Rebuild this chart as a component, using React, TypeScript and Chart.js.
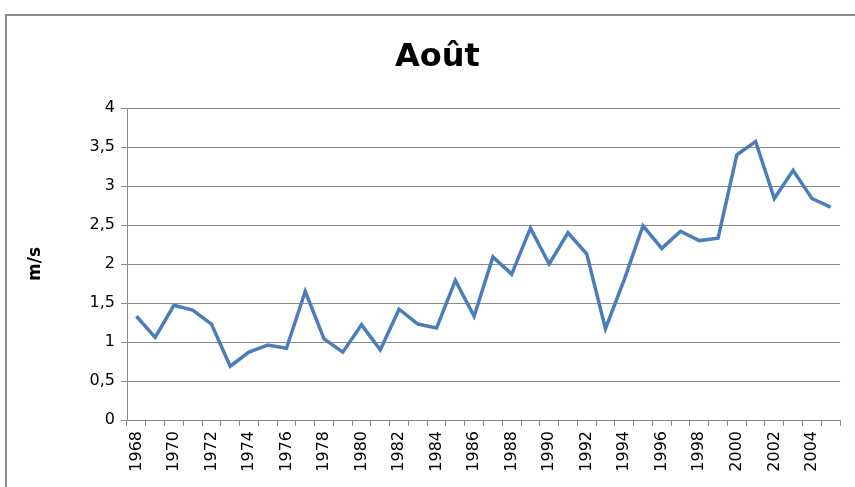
import React, { useEffect, useRef } from "react";
import { Chart, registerables } from "chart.js";

Chart.register(...registerables);

const years: string[] = [];
for (let y = 1968; y <= 2005; y++) years.push(String(y));

const values: number[] = [
  1.33, 1.06, 1.47, 1.41, 1.23, 0.69, 0.87, 0.96, 0.92, 1.65,
  1.04, 0.87, 1.22, 0.9, 1.42, 1.23, 1.18, 1.79, 1.33, 2.09,
  1.87, 2.46, 2.0, 2.4, 2.13, 1.17, 1.8, 2.49, 2.2, 2.42,
  2.3, 2.33, 3.4, 3.57, 2.84, 3.2, 2.84, 2.73,
];

const title = "Août";
const yTitle = "m/s";

export default function App() {
  const ref = useRef<HTMLCanvasElement>(null);
  useEffect(() => {
    const ctx = ref.current!;
    const chart = new Chart(ctx, {
      type: "line",
      data: {
        labels: years,
        datasets: [
          {
            data: values,
            borderColor: "#4a7ebb",
            borderWidth: 3.5,
            pointRadius: 0,
            tension: 0,
            fill: false,
          },
        ],
      },
      options: {
        animation: false,
        responsive: false,
        layout: { padding: { left: 20, right: 0, top: 0, bottom: 0 } },
        plugins: {
          legend: { display: false },
          tooltip: { enabled: false },
          title: {
            display: true,
            text: title,
            color: "#000",
            font: { family: "DejaVu Sans", size: 32, weight: "bold", lineHeight: 1.2 },
            padding: { top: 38, bottom: 31.6 },
          },
        },
        scales: {
          x: {
            offset: true,
            grid: {
              offset: true,
              drawOnChartArea: false,
              color: "#8a8a8a",
              tickLength: 6,
            },
            border: { color: "#8a8a8a", width: 1 },
            ticks: {
              autoSkip: false,
              maxRotation: 90,
              minRotation: 90,
              color: "#000",
              padding: 5,
              font: { family: "DejaVu Sans", size: 16 },
              callback: (_v: any, i: number) => (i % 2 === 0 ? years[i] : ""),
            },
            afterFit: (s: any) => {
              s.height = 67;
            },
          },
          y: {
            min: 0,
            max: 4,
            ticks: {
              stepSize: 0.5,
              color: "#000",
              padding: 6,
              font: { family: "DejaVu Sans", size: 16 },
              callback: (v: any) => String(v).replace(".", ","),
            },
            grid: { color: "#8a8a8a", tickLength: 6, lineWidth: 1 },
            border: { color: "#8a8a8a", width: 1 },
            title: {
              display: true,
              text: yTitle,
              color: "#000",
              font: { family: "DejaVu Sans", size: 17, weight: "bold" },
              padding: { top: 5, bottom: 0 },
            },
            afterFit: (s: any) => {
              s.width = 107;
            },
          },
          yRight: {
            position: "right",
            display: true,
            ticks: { display: false },
            grid: { display: false },
            border: { display: false },
            afterFit: (s: any) => {
              s.width = 12;
            },
          },
        },
      },
    });
    return () => chart.destroy();
  }, []);
  return (
    <div style={{ position: "fixed", left: 0, top: 0, width: 855, height: 487, overflow: "hidden", background: "#fff" }}>
      <div
        style={{
          position: "absolute",
          left: 5,
          top: 14,
          width: 900,
          height: 600,
          border: "2px solid #8a8a8a",
          boxSizing: "border-box",
        }}
      />
      <canvas ref={ref} width={855} height={487} style={{ position: "absolute", left: 0, top: 0, display: "block" }} />
    </div>
  );
}
